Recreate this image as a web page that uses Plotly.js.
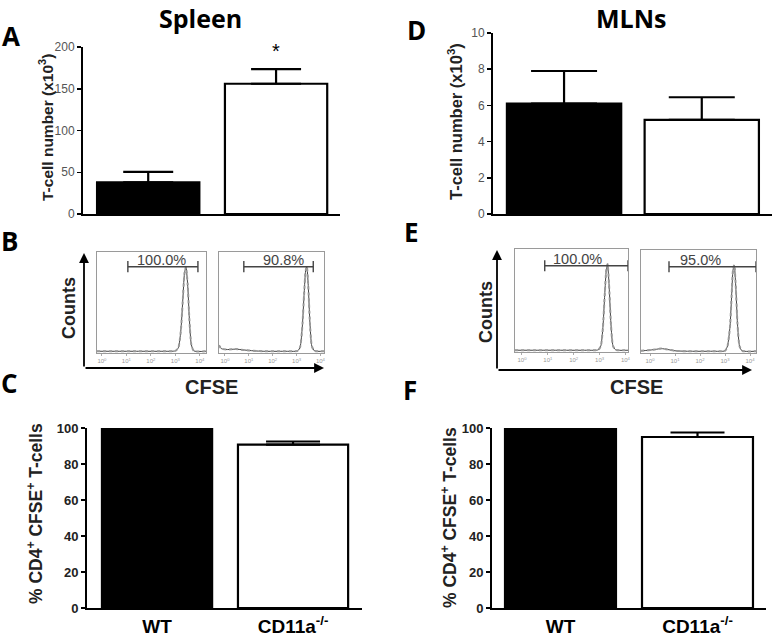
<!DOCTYPE html>
<html>
<head>
<meta charset="utf-8">
<script src="https://cdn.plot.ly/plotly-3.0.1.min.js"></script>
<style>html,body{margin:0;padding:0;background:#fff;}#chart{width:772px;height:639px;}</style>
</head>
<body>
<div id="chart"></div>
<script>
// ---------------- DATA ----------------
const groups = ['WT', 'CD11a-/-'];
const groupLabels = ['WT', 'CD11a<sup>-/-</sup>'];

const spleenCount = [38, 156];
const spleenCountErr = [12.5, 17.5];
const mlnCount = [6.1, 5.2];
const mlnCountErr = [1.8, 1.25];
const spleenPct = [100, 90.8];
const spleenPctErr = [0, 1.7];
const mlnPct = [100, 95.0];
const mlnPctErr = [0, 2.5];

// CFSE histograms (x in log decades, y in % of max)
const cfseX_spleenWT = [-0.2, 0.5, 1.5, 2.5, 3.0, 3.12, 3.22, 3.3, 3.37, 3.43, 3.5, 3.57, 3.65, 3.75, 4.25];
const cfseY_spleenWT = [2, 2, 2, 2, 2.5, 6, 25, 60, 92, 100, 80, 40, 10, 2.5, 2];
const cfseX_spleenKO = [-0.25, -0.15, 0.1, 0.45, 0.8, 1.2, 1.6, 2.5, 3.05, 3.15, 3.24, 3.32, 3.38, 3.43, 3.49, 3.56, 3.64, 3.75, 4.15];
const cfseY_spleenKO = [9, 5, 4, 4.5, 3.5, 2.5, 2, 2, 2.5, 7, 30, 70, 95, 100, 78, 35, 8, 2.5, 2];
const cfseX_mlnWT = [-0.27, 0.5, 1.5, 2.5, 2.95, 3.05, 3.13, 3.2, 3.26, 3.31, 3.37, 3.44, 3.52, 3.62, 4.1];
const cfseY_mlnWT = [2, 2, 2, 2, 2.5, 7, 28, 65, 93, 100, 75, 32, 7, 2.5, 2];
const cfseX_mlnKO = [-0.36, -0.1, 0.2, 0.45, 0.7, 1.0, 1.5, 2.5, 3.0, 3.1, 3.2, 3.27, 3.32, 3.37, 3.43, 3.5, 3.58, 3.68, 4.24];
const cfseY_mlnKO = [2.5, 3, 4, 5, 4, 2.5, 2, 2, 2.5, 8, 30, 68, 94, 100, 76, 33, 8, 2.5, 2];

const gateLabels = ['100.0%', '90.8%', '100.0%', '95.0%'];
const gateStart = [1.06, 0.79, 0.88, 0.76];
const gateEnd = [3.92, 3.7, 4.1, 4.24];
const gateLevel = [100, 100, 98, 98];
const decadeTicks = [0, 1, 2, 3, 4];
const decadeTickText = ['10<sup>0</sup>', '10<sup>1</sup>', '10<sup>2</sup>', '10<sup>3</sup>', '10<sup>4</sup>'];

// ---------------- LAYOUT HELPERS ----------------
const W = 772, H = 639;
const xd = (a, b) => [a / W, b / W];
const yd = (top, bottom) => [1 - bottom / H, 1 - top / H];
const FONT = 'Liberation Sans, Arial, sans-serif';
const TITLEFONT = 'Open Sans, Liberation Sans, sans-serif';

function barTrace(vals, errs, xa, ya, width, capw) {
  return {
    type: 'bar', x: groups, y: vals, xaxis: xa, yaxis: ya, width: width,
    marker: {color: ['#000000', '#ffffff'], line: {color: '#000000', width: 2.2}},
    error_y: {type: 'data', symmetric: false, array: errs, arrayminus: [0, 0],
              color: '#000000', thickness: 2.2, width: capw},
    hoverinfo: 'skip'
  };
}
function barX(dom, range, labels) {
  return {domain: dom, range: range, type: 'category', showline: true, linecolor: '#000', linewidth: 2,
          ticks: '', showgrid: false, zeroline: false, fixedrange: true,
          tickvals: groups, ticktext: groupLabels, showticklabels: labels,
          ticklabelstandoff: 0,
          tickfont: {family: FONT, size: 19, color: '#000', weight: 'bold'}};
}
function barY(dom, range, dtick, fsize, bold) {
  return {domain: dom, range: range, showline: true, linecolor: '#000', linewidth: 2,
          ticks: 'outside', ticklen: 4, tickwidth: 1.5, tickcolor: '#000', dtick: dtick, tick0: 0,
          showgrid: false, zeroline: false, fixedrange: true, ticklabelstandoff: 0,
          tickfont: {family: FONT, size: fsize, color: bold ? '#222' : '#555', weight: bold ? 'bold' : 'normal'}};
}
function histX(dom, range) {
  return {domain: dom, range: range, showline: true, mirror: true, linecolor: '#9a9a9a', linewidth: 1,
          ticks: 'outside', ticklen: 2, tickcolor: '#aaa', tickvals: decadeTicks, ticktext: decadeTickText,
          tickfont: {family: FONT, size: 6, color: '#999'}, showgrid: false, zeroline: false, fixedrange: true};
}
function histY(dom) {
  return {domain: dom, range: [0, 117], showline: true, mirror: true, linecolor: '#9a9a9a', linewidth: 1,
          ticks: '', showticklabels: false, showgrid: false, zeroline: false, fixedrange: true};
}
function histTraces(xs, ys, xa, ya) {
  return [
    {type: 'scatter', mode: 'lines', x: xs, y: ys, xaxis: xa, yaxis: ya,
     line: {color: '#444', width: 1, shape: 'spline', smoothing: 0.6}, hoverinfo: 'skip'},
    {type: 'scatter', mode: 'lines', x: xs, y: ys, xaxis: xa, yaxis: ya,
     line: {color: '#999', width: 2, dash: 'dot', shape: 'spline', smoothing: 0.6}, hoverinfo: 'skip'}
  ];
}
function gateTrace(i, xa, ya) {
  return {type: 'scatter', mode: 'lines+markers', x: [gateStart[i], gateEnd[i]], y: [gateLevel[i], gateLevel[i]],
          xaxis: xa, yaxis: ya, line: {color: '#444', width: 1.4},
          marker: {symbol: 'line-ns', size: 8, line: {color: '#444', width: 1.4}}, hoverinfo: 'skip'};
}

const traces = [
  barTrace(spleenCount, spleenCountErr, 'x', 'y', 0.8, 25),
  barTrace(mlnCount, mlnCountErr, 'x2', 'y2', 0.83, 33),
  barTrace(spleenPct, spleenPctErr, 'x3', 'y3', 0.81, 27),
  barTrace(mlnPct, mlnPctErr, 'x4', 'y4', 0.81, 27),
  ...histTraces(cfseX_spleenWT, cfseY_spleenWT, 'x5', 'y5'),
  ...histTraces(cfseX_spleenKO, cfseY_spleenKO, 'x6', 'y6'),
  ...histTraces(cfseX_mlnWT, cfseY_mlnWT, 'x7', 'y7'),
  ...histTraces(cfseX_mlnKO, cfseY_mlnKO, 'x8', 'y8'),
  gateTrace(0, 'x5', 'y5'), gateTrace(1, 'x6', 'y6'), gateTrace(2, 'x7', 'y7'), gateTrace(3, 'x8', 'y8')
];

const gateLabelX = [2.45, 2.45, 2.15, 2.0];
const histAxes = [['x5', 'y5'], ['x6', 'y6'], ['x7', 'y7'], ['x8', 'y8']];

const ann = [];
function txt(x, y, text, size, opts) {
  ann.push(Object.assign({xref: 'paper', yref: 'paper', x: x / W, y: 1 - y / H, text: text, showarrow: false,
    xanchor: 'center', yanchor: 'middle', font: {family: FONT, size: size, color: '#000'}}, opts || {}));
}
// Titles and panel letters
txt(201, 18, 'Spleen', 25, {font: {family: TITLEFONT, size: 25, color: '#000', weight: 'bold'}});
txt(631, 18, 'MLNs', 25, {font: {family: TITLEFONT, size: 25, color: '#000', weight: 'bold'}});
const letterFont = {family: TITLEFONT, size: 26, color: '#000', weight: 'bold'};
txt(11, 36, 'A', 26, {font: letterFont});
txt(416, 30, 'D', 26, {font: letterFont});
txt(9, 241, 'B', 26, {font: letterFont});
txt(411, 232, 'E', 26, {font: letterFont});
txt(9, 383, 'C', 26, {font: letterFont});
txt(410, 390, 'F', 26, {font: letterFont});
// y-axis titles
const ytf = (s) => ({family: FONT, size: s, color: '#222', weight: 'bold'});
txt(46, 128, 'T-cell number (x10<sup>3</sup>)', 15.5, {textangle: -90, font: ytf(15.5)});
txt(455, 122, 'T-cell number (x10<sup>3</sup>)', 16.5, {textangle: -90, font: ytf(16.5)});
txt(35, 514, '% CD4<sup>+</sup> CFSE<sup>+</sup> T-cells', 17.5, {textangle: -90, font: ytf(17.5)});
txt(449, 517, '% CD4<sup>+</sup> CFSE<sup>+</sup> T-cells', 17.5, {textangle: -90, font: ytf(17.5)});
// histogram axis labels
txt(69, 308, 'Counts', 18, {textangle: -90, font: ytf(18)});
txt(211, 387, 'CFSE', 20, {font: ytf(20)});
txt(486, 312, 'Counts', 18, {textangle: -90, font: ytf(18)});
txt(636, 387, 'CFSE', 20, {font: ytf(20)});
// significance stars
ann.push({xref: 'x', yref: 'y', x: groups[1], y: spleenCount[1] + spleenCountErr[1] + 22, text: '*', showarrow: false,
          font: {family: FONT, size: 20, color: '#000'}, yanchor: 'middle'});
ann.push({xref: 'x3', yref: 'y3', x: groups[1], y: spleenPct[1] + spleenPctErr[1] + 10, text: '*', showarrow: false,
          font: {family: FONT, size: 20, color: '#000'}, yanchor: 'middle'});
// gate labels
for (let i = 0; i < 4; i++) {
  ann.push({xref: histAxes[i][0], yref: histAxes[i][1], x: gateLabelX[i], y: gateLevel[i], text: gateLabels[i],
            showarrow: false, yanchor: 'bottom', xanchor: 'center', yshift: -3,
            font: {family: FONT, size: 14.5, color: '#444'}});
}
// axis arrows (decorations)
function arrow(tx, ty, ax, ay) {
  ann.push({xref: 'paper', yref: 'paper', x: tx / W, y: 1 - ty / H, ax: ax, ay: ay, text: '',
            showarrow: true, arrowhead: 2, arrowsize: 1.1, arrowwidth: 1.8, arrowcolor: '#000'});
}
arrow(84, 253, 0, 115);
arrow(324, 368, -240, 0);
arrow(497, 250, 0, 120);
arrow(752, 370, -255, 0);

const layout = {
  width: W, height: H, margin: {l: 0, r: 0, t: 0, b: 0}, showlegend: false,
  paper_bgcolor: '#fff', plot_bgcolor: 'rgba(0,0,0,0)', bargap: 0,
  font: {family: FONT},
  xaxis: barX(xd(83, 340), [-0.51, 1.5], false),
  yaxis: barY(yd(47, 214), [0, 200], 50, 12, false),
  xaxis2: barX(xd(493, 772), [-0.516, 1.51], false),
  yaxis2: barY(yd(33, 214), [0, 10], 2, 12, false),
  xaxis3: barX(xd(87, 362), [-0.515, 1.507], true),
  yaxis3: barY(yd(428, 608), [0, 100], 20, 13, true),
  xaxis4: barX(xd(492, 766), [-0.5, 1.5], true),
  yaxis4: barY(yd(428, 608), [0, 100], 20, 13, true),
  xaxis5: histX(xd(97, 206), [-0.2, 4.25]),
  yaxis5: histY(yd(252, 353)),
  xaxis6: histX(xd(219, 324), [-0.25, 4.15]),
  yaxis6: histY(yd(252, 353)),
  xaxis7: histX(xd(515, 628), [-0.27, 4.1]),
  yaxis7: histY(yd(249, 352)),
  xaxis8: histX(xd(641, 756), [-0.36, 4.24]),
  yaxis8: histY(yd(250, 353)),
  annotations: ann
};
for (let i = 1; i <= 8; i++) {
  const xk = i === 1 ? 'xaxis' : 'xaxis' + i;
  const yk = i === 1 ? 'yaxis' : 'yaxis' + i;
  layout[xk].anchor = i === 1 ? 'y' : 'y' + i;
  layout[yk].anchor = i === 1 ? 'x' : 'x' + i;
}

Plotly.newPlot('chart', traces, layout, {staticPlot: true, displayModeBar: false});
</script>
</body>
</html>
